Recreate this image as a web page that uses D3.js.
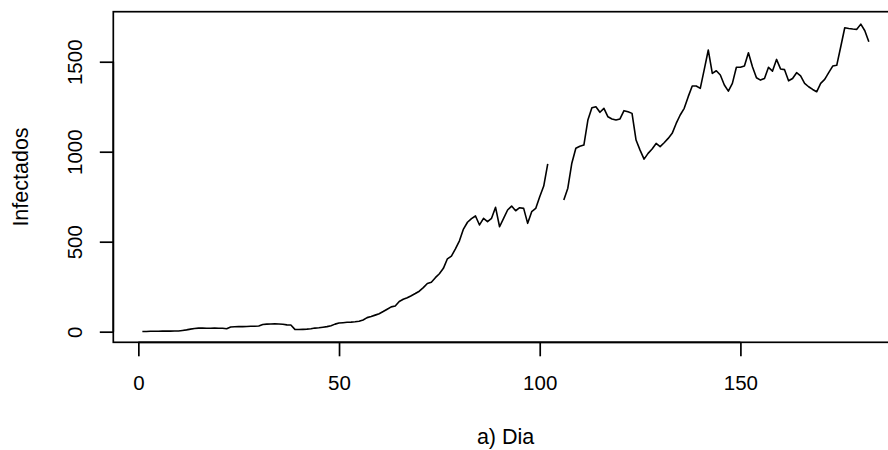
<!DOCTYPE html>
<html><head><meta charset="utf-8">
<script src="https://cdn.jsdelivr.net/npm/d3@7/dist/d3.min.js"></script>
<style>body{margin:0;background:#fff} svg{display:block}</style>
</head><body><svg id="c" width="888" height="450"></svg>
<script>
// Daily infected counts, day 1..182 (null = missing days)
const infected = [
  1,1,2,2,2,3,3,3,4,4,
  7,10,14,18,20,20,19,19,20,19,
  19,16,26,27,28,28,29,30,30,32,
  40,42,43,44,43,41,38,37,13,12,
  13,14,16,20,22,25,28,33,42,48,
  50,52,53,55,58,65,78,84,92,100,
  112,125,138,143,168,180,189,200,212,225,
  245,268,275,300,322,352,405,420,460,505,
  570,608,628,643,593,630,611,630,691,583,
  630,676,698,672,689,685,602,667,685,750,
  809,932,null,null,null,732,797,936,1019,1030,
  1037,1176,1244,1250,1219,1241,1194,1182,1176,1182,
  1228,1222,1213,1065,1009,959,991,1015,1046,1028,
  1050,1074,1102,1157,1204,1241,1306,1365,1365,1352,
  1458,1565,1435,1450,1426,1371,1337,1380,1469,1469,
  1476,1550,1472,1411,1398,1407,1469,1448,1513,1460,
  1456,1394,1407,1439,1421,1380,1361,1346,1333,1380,
  1402,1439,1476,1480,1583,1689,1685,1682,1680,1709,
  1672,1611
];
const xTicks = [0, 50, 100, 150];
const yTicks = [0, 500, 1000, 1500];
const xTitle = "a) Dia";
const yTitle = "Infectados";

const data = infected.map((v, i) => ({day: i + 1, v}));

const svg = d3.select("#c");
const L = 113.3, R = 897.9, T = 11.7, B = 342.3;
const x = d3.scaleLinear().domain([-6.24, 189.24]).range([L, R]);
const y = d3.scaleLinear().domain([-59, 1778]).range([B, T]);
const font = "'Liberation Sans', Arial, Helvetica, sans-serif";
const lw = 1.7;

// data line
svg.append("path")
  .datum(data)
  .attr("fill", "none")
  .attr("stroke", "#000")
  .attr("stroke-width", 1.6)
  .attr("stroke-linejoin", "round")
  .attr("d", d3.line().defined(d => d.v != null).x(d => x(d.day)).y(d => y(d.v)));

// box
svg.append("rect")
  .attr("x", L).attr("y", T).attr("width", R - L).attr("height", B - T)
  .attr("fill", "none").attr("stroke", "#000").attr("stroke-width", lw);

// x axis
const gx = svg.append("g").attr("transform", `translate(0,${B})`)
  .call(d3.axisBottom(x).tickValues(xTicks).tickSize(14).tickFormat(d3.format("d")));
gx.select(".domain").remove();
gx.selectAll(".tick line").attr("stroke", "#000").attr("stroke-width", lw);
gx.selectAll(".tick text").attr("y", 47.7).attr("dy", 0)
  .attr("font-family", font).attr("font-size", 20.5).attr("fill", "#000");
gx.append("line").attr("x1", x(xTicks[0])).attr("x2", x(xTicks[xTicks.length-1]))
  .attr("stroke", "#000").attr("stroke-width", lw);

// y axis
const gy = svg.append("g").attr("transform", `translate(${L},0)`)
  .call(d3.axisLeft(y).tickValues(yTicks).tickSize(13.5).tickFormat(d3.format("d")));
gy.select(".domain").remove();
gy.selectAll(".tick line").attr("stroke", "#000").attr("stroke-width", lw);
gy.selectAll(".tick text").attr("x", 0).attr("dy", 0)
  .attr("transform", "translate(-31.6,0) rotate(-90)")
  .attr("text-anchor", "middle")
  .attr("font-family", font).attr("font-size", 20.5).attr("fill", "#000");
gy.append("line").attr("y1", y(yTicks[0])).attr("y2", y(yTicks[yTicks.length-1]))
  .attr("stroke", "#000").attr("stroke-width", lw);

// titles
svg.append("text").text(xTitle)
  .attr("x", (L + R) / 2).attr("y", 444)
  .attr("text-anchor", "middle").attr("font-family", font).attr("font-size", 21.5).attr("fill", "#000");
svg.append("text").text(yTitle)
  .attr("transform", `translate(28.3,${(T + B) / 2}) rotate(-90)`)
  .attr("text-anchor", "middle").attr("font-family", font).attr("font-size", 21.5).attr("fill", "#000");
</script></body></html>
